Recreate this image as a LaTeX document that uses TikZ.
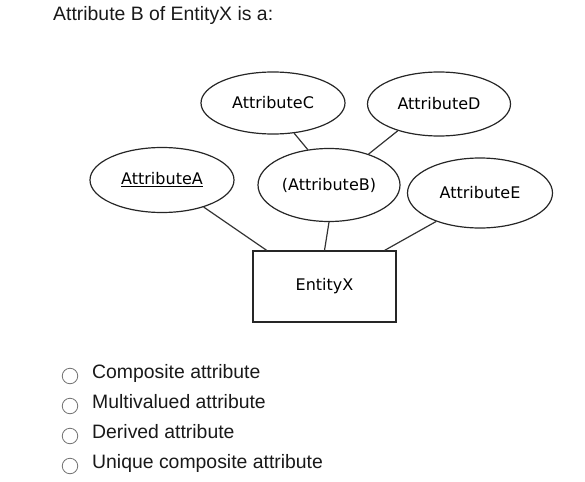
\documentclass[tikz,border=0pt]{standalone}
\usepackage{fontspec}
\setmainfont{Liberation Sans}
\newfontfamily\erfont{DejaVu Sans}
\usetikzlibrary{shapes.geometric}
\tikzset{
  attr/.style={ellipse,draw=black!85,line width=1.2pt,inner sep=0pt,font=\erfont\fontsize{16}{19}\selectfont},
  entity/.style={rectangle,draw=black!85,line width=1.2pt,minimum width=143pt,minimum height=71pt,font=\erfont\fontsize{16}{19}\selectfont},
  link/.style={draw=black!80,line width=1.2pt},
  radio/.style={circle,draw=black!55,line width=0.8pt,minimum size=15.5pt,inner sep=0pt},
  choice/.style={anchor=base west,inner sep=0pt,font=\fontsize{19.4}{23}\selectfont,text=black!90}
}
\begin{document}
\begin{tikzpicture}[x=1pt,y=-1pt]
            \useasboundingbox (0,0) rectangle (585,481);
            \node[choice] (title) at (53,21) {Attribute B of EntityX is a:};
            % ER part
            \node[attr,minimum width=144pt,minimum height=62pt] (attC) at (273,103) {AttributeC};
            \node[attr,minimum width=143pt,minimum height=64pt] (attD) at (439,104) {AttributeD};
            \node[attr,minimum width=144pt,minimum height=65pt] (attA) at (162,180) {\underline{AttributeA}};
            \node[attr,minimum width=142pt,minimum height=73pt] (attB) at (329,185) {(AttributeB)};
            \node[attr,minimum width=145pt,minimum height=70pt] (attE) at (480,193) {AttributeE};
            \node[entity] (entX) at (324.5,286.5) {EntityX};
            \draw[link](attC.-55)--(attB.121);
            \draw[link](attD.213)--(attB.38);
            \draw[link](attA.-33)--(entX.148);
            \draw[link](attB.south)--(entX.north);
            \draw[link](attE.213)--(entX.31);
            % answers
            \foreach \lbl [count=\i from 0] in {Composite attribute,Multivalued attribute,Derived attribute,Unique composite attribute}{
              \node[radio] (radio\i) at (70,{376+30*\i}) {};
              \node[choice] (answer\i) at (92,{378+30*\i}) {\lbl};
            }
        \end{tikzpicture}
\end{document}
